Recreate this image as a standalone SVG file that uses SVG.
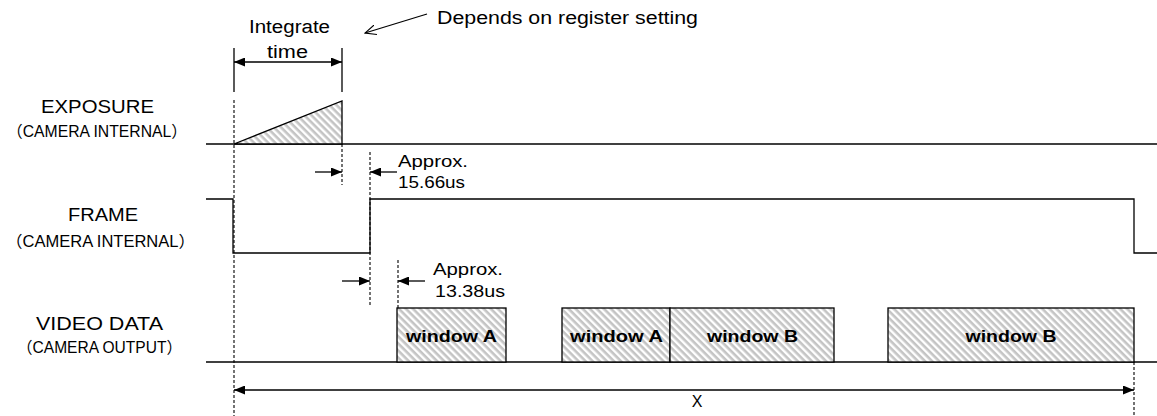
<svg xmlns="http://www.w3.org/2000/svg" width="1157" height="416" viewBox="0 0 1157 416">
<style>
text{font-family:"Liberation Sans","Noto Sans CJK JP",sans-serif;fill:#000}
.lbl{font-size:18px}
.sub{font-size:16px}
.note{font-size:16px}
.win{font-size:17px;font-weight:bold;text-anchor:middle}
.ln{stroke:#000;stroke-width:1.3;fill:none}
.dash{stroke:#000;stroke-width:1.1;stroke-dasharray:3 2;fill:none}
.hatch{fill:url(#hatch);stroke:#000;stroke-width:1.3}
</style>
<defs>
<pattern id="hatch" width="5" height="5" patternUnits="userSpaceOnUse" patternTransform="rotate(45)">
<rect width="5" height="5" fill="#fff"/>
<rect width="5" height="2.6" fill="#c4c4c4"/>
</pattern>
<marker id="ah" markerWidth="11" markerHeight="9" refX="11" refY="4.5" orient="auto" markerUnits="userSpaceOnUse">
<path d="M0,0 L11,4.5 L0,9 Z" fill="#000"/>
</marker>
<marker id="ah2" markerWidth="11" markerHeight="9" refX="11" refY="4.5" orient="auto-start-reverse" markerUnits="userSpaceOnUse">
<path d="M0,0 L11,4.5 L0,9 Z" fill="#000"/>
</marker>
<marker id="open" markerWidth="12" markerHeight="10" refX="11" refY="5" orient="auto" markerUnits="userSpaceOnUse">
<path d="M0,0 L11,5 L0,10" fill="none" stroke="#000" stroke-width="1.1"/>
</marker>
</defs>

<g id="labels">
<text class="lbl" x="41" y="113" textLength="113" lengthAdjust="spacingAndGlyphs">EXPOSURE</text>
<text class="sub" x="7" y="137" textLength="180" lengthAdjust="spacingAndGlyphs">（CAMERA INTERNAL）</text>
<text class="lbl" x="68" y="221" textLength="70" lengthAdjust="spacingAndGlyphs">FRAME</text>
<text class="sub" x="6" y="247" textLength="189" lengthAdjust="spacingAndGlyphs">（CAMERA INTERNAL）</text>
<text class="lbl" x="36" y="330" textLength="127" lengthAdjust="spacingAndGlyphs">VIDEO DATA</text>
<text class="sub" x="17" y="353" textLength="165" lengthAdjust="spacingAndGlyphs">（CAMERA OUTPUT）</text>
</g>

<g id="exposure">
<line class="ln" x1="206" y1="144" x2="1157" y2="144"/>
<path class="hatch" d="M234,144 L342,101 L342,144 Z"/>
</g>

<g id="frame">
<path class="ln" d="M206,199 H233 V253 H370 V199 H1134 V253 H1157"/>
</g>

<g id="video">
<line class="ln" x1="206" y1="362" x2="1157" y2="362"/>
<g id="win1"><rect class="hatch" x="397" y="308" width="109" height="54"/><text class="win" x="451.5" y="342" textLength="91" lengthAdjust="spacingAndGlyphs">window A</text></g>
<g id="win2"><rect class="hatch" x="562" y="308" width="108" height="54"/><text class="win" x="616.5" y="342" textLength="93" lengthAdjust="spacingAndGlyphs">window A</text></g>
<g id="win3"><rect class="hatch" x="670" y="308" width="164" height="54"/><text class="win" x="752.5" y="342" textLength="91" lengthAdjust="spacingAndGlyphs">window B</text></g>
<g id="win4"><rect class="hatch" x="888" y="308" width="246" height="54"/><text class="win" x="1011" y="342" textLength="91" lengthAdjust="spacingAndGlyphs">window B</text></g>
</g>

<g id="integrate">
<text class="lbl" x="249" y="33" textLength="81" lengthAdjust="spacingAndGlyphs">Integrate</text>
<text class="lbl" x="267" y="58" textLength="41" lengthAdjust="spacingAndGlyphs">time</text>
</g>

<g id="depends">
<text class="lbl" x="437" y="24" textLength="261" lengthAdjust="spacingAndGlyphs">Depends on register setting</text>
</g>

<g id="approx1">
<text class="note" x="398" y="167" textLength="70" lengthAdjust="spacingAndGlyphs">Approx.</text>
<text class="note" x="398" y="188" textLength="67" lengthAdjust="spacingAndGlyphs">15.66us</text>
</g>
<g id="approx2">
<text class="note" x="433" y="275" textLength="70" lengthAdjust="spacingAndGlyphs">Approx.</text>
<text class="note" x="435" y="297" textLength="70" lengthAdjust="spacingAndGlyphs">13.38us</text>
</g>

<g id="xlabel">
<text class="sub" x="697" y="407" text-anchor="middle">X</text>
</g>

<g id="connectors">
<line class="ln" x1="234" y1="48" x2="234" y2="92"/>
<line class="ln" x1="342" y1="48" x2="342" y2="92"/>
<line class="ln" x1="234" y1="62" x2="342" y2="62" marker-start="url(#ah2)" marker-end="url(#ah2)"/>
<line class="ln" x1="427" y1="14" x2="365" y2="33" marker-end="url(#open)"/>
<line class="dash" x1="234" y1="100" x2="234" y2="416"/>
<line class="dash" x1="342" y1="144" x2="342" y2="185"/>
<line class="dash" x1="370" y1="152" x2="370" y2="307"/>
<line class="dash" x1="398" y1="260" x2="398" y2="308"/>
<line class="dash" x1="1134" y1="362" x2="1134" y2="416"/>
<line class="ln" x1="315" y1="172" x2="342" y2="172" marker-end="url(#ah)"/>
<line class="ln" x1="397" y1="172" x2="370" y2="172" marker-end="url(#ah)"/>
<line class="ln" x1="342" y1="281" x2="370" y2="281" marker-end="url(#ah)"/>
<line class="ln" x1="425" y1="281" x2="398" y2="281" marker-end="url(#ah)"/>
<line class="ln" x1="234" y1="390" x2="1134" y2="390" marker-start="url(#ah2)" marker-end="url(#ah2)"/>
</g>
</svg>
